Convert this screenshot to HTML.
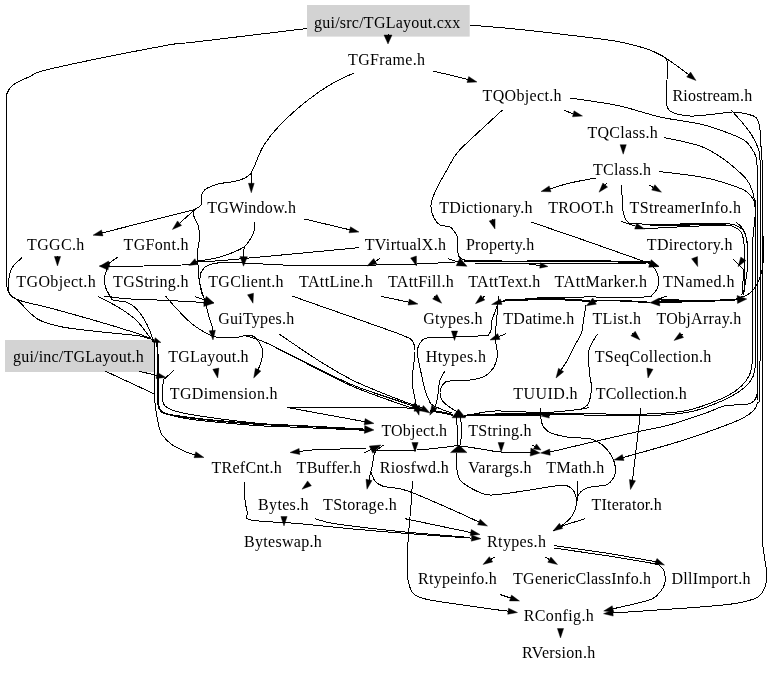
<!DOCTYPE html><html><head><meta charset="utf-8"><style>html,body{margin:0;padding:0;background:#fff}svg{display:block}text{font-family:"Liberation Serif",serif;font-size:16.0px;fill:#000}</style></head><body>
<svg style="will-change:transform" width="779" height="674" viewBox="0 0 779 674">
<rect width="779" height="674" fill="#fff"/>
<rect x="307.0" y="5.0" width="162.7" height="31.6" fill="#d3d3d3"/>
<rect x="5.0" y="340.0" width="149.0" height="32.0" fill="#d3d3d3"/>
<g fill="none" stroke="#000" stroke-width="1" shape-rendering="crispEdges">
<path d="M388.0 34.0L388.0 35.0"/>
<path d="M469.5 25.0C477.9 25.8 500.8 27.5 520.0 29.5C539.2 31.5 568.3 34.9 585.0 37.0C601.7 39.1 609.2 39.8 620.0 42.0C630.8 44.2 642.2 47.2 650.0 50.0C657.8 52.8 660.7 55.0 667.0 59.0C673.3 63.0 684.4 71.4 688.0 74.0C691.6 76.6 688.5 74.4 688.6 74.5"/>
<path d="M650.0 50.0C652.3 51.2 661.1 54.7 664.0 57.0C666.9 59.3 667.0 60.2 667.5 64.0C668.0 67.8 667.2 74.0 667.0 80.0C666.8 86.0 666.0 94.8 666.5 100.0C667.0 105.2 666.1 108.3 670.0 111.0C673.9 113.7 682.5 115.5 690.0 116.0C697.5 116.5 708.0 114.7 715.0 114.0C722.0 113.3 727.2 112.1 732.0 112.0C736.8 111.9 740.4 112.7 744.0 113.4C747.6 114.1 751.2 115.0 753.5 116.0C755.8 117.0 756.4 117.2 757.5 119.5C758.6 121.8 759.4 124.9 760.0 130.0C760.6 135.1 760.8 142.5 761.2 150.0C761.6 157.5 762.3 156.7 762.5 175.0C762.7 193.3 762.5 222.5 762.5 260.0C762.5 297.5 762.5 355.0 762.5 400.0C762.5 445.0 762.5 505.8 762.5 530.0C762.5 554.2 762.4 540.2 762.8 545.0C763.2 549.8 764.1 554.1 764.7 558.7C765.3 563.3 766.5 568.1 766.6 572.8C766.7 577.5 766.8 582.7 765.2 586.8C763.6 590.9 762.0 594.7 757.0 597.5C752.0 600.3 744.5 601.9 735.0 603.5C725.5 605.1 714.2 605.8 700.0 607.0C685.8 608.2 664.5 609.5 650.0 610.5C635.5 611.5 619.1 612.6 613.0 613.0"/>
<path d="M307.0 28.5C288.3 30.8 219.0 39.1 195.0 42.0C171.0 44.9 187.2 41.5 163.0 46.0C138.8 50.5 72.2 63.9 50.0 69.0C27.8 74.1 36.2 73.8 30.0 76.5C23.8 79.2 16.8 82.2 13.0 85.0C9.2 87.8 8.3 90.2 7.2 93.0C6.1 95.8 6.6 92.5 6.5 102.0C6.4 111.5 6.5 122.0 6.5 150.0C6.5 178.0 6.5 247.8 6.5 270.0C6.5 292.2 6.2 279.5 6.5 283.0C6.8 286.5 7.0 288.7 8.0 291.0C9.0 293.3 10.0 295.2 12.5 297.0C15.0 298.8 16.8 299.7 23.0 301.5C29.2 303.3 37.2 304.6 50.0 308.0C62.8 311.4 85.4 317.8 100.0 322.0C114.6 326.2 129.2 330.8 137.5 333.5C145.8 336.2 147.2 337.4 150.0 338.5C152.8 339.6 153.7 339.8 154.4 340.1"/>
<path d="M433.0 71.2C435.8 71.8 444.5 73.7 450.0 75.0C455.5 76.3 463.0 78.2 466.0 79.0C469.0 79.8 467.5 79.4 467.8 79.5"/>
<path d="M354.0 73.0C350.5 74.7 340.7 78.5 333.0 83.0C325.3 87.5 316.8 93.0 308.0 100.0C299.2 107.0 287.3 117.5 280.0 125.0C272.7 132.5 268.2 138.3 264.0 145.0C259.8 151.7 257.0 160.3 254.9 165.0C252.8 169.7 251.9 170.2 251.3 173.2C250.7 176.2 251.3 181.3 251.3 183.0C251.3 184.7 251.3 183.2 251.3 183.3"/>
<path d="M251.3 173.2C250.2 174.0 247.7 176.7 245.0 178.0C242.3 179.3 239.6 180.3 235.3 181.3C231.0 182.3 223.6 182.7 219.0 183.8C214.4 184.9 210.3 186.5 207.6 187.9C204.8 189.3 203.5 191.0 202.5 192.5C201.5 194.0 201.7 195.1 201.5 197.0C201.3 198.9 201.7 202.4 201.3 204.0C201.0 205.6 200.5 205.8 199.4 206.8C198.3 207.8 195.4 208.5 194.5 210.0C193.6 211.5 193.0 212.8 193.7 215.6C194.4 218.4 197.6 223.2 198.6 227.0C199.6 230.8 199.5 234.7 199.4 238.5C199.3 242.3 198.1 246.5 197.8 250.0C197.5 253.5 197.3 256.7 197.4 259.7C197.5 262.7 198.2 265.3 198.4 268.0C198.6 270.7 198.2 272.9 198.6 276.0C198.9 279.1 199.4 282.5 200.5 286.7C201.6 290.9 203.7 296.2 205.0 301.0C206.3 305.8 207.4 311.3 208.6 315.5C209.8 319.7 211.4 323.5 212.0 326.0C212.6 328.5 212.3 329.8 212.3 330.5"/>
<path d="M195.5 209.3L102.2 232.9"/>
<path d="M194.5 210.0L179.5 223.2"/>
<path d="M254.6 221.8C254.5 223.2 254.7 227.5 254.1 230.3C253.5 233.1 252.4 235.8 250.8 238.5C249.2 241.2 246.9 244.4 244.3 246.6C241.7 248.8 239.5 249.7 235.3 251.5C231.1 253.3 224.4 255.7 219.0 257.2C213.6 258.7 206.4 259.8 202.7 260.5C199.0 261.2 199.2 260.6 196.9 261.3C194.6 262.0 197.6 263.8 188.8 264.6C180.0 265.4 157.5 265.6 144.0 266.0C130.5 266.4 113.9 266.8 108.0 267.0C102.1 267.2 108.4 267.0 108.4 267.0"/>
<path d="M244.3 246.6C244.2 247.5 243.9 250.3 243.8 252.0C243.7 253.7 243.7 255.9 243.7 256.7"/>
<path d="M304.5 219.0L349.8 229.8"/>
<path d="M358.7 247.7C337.2 249.7 256.2 257.5 230.0 259.8C203.8 262.1 206.9 261.4 201.4 261.6C195.9 261.8 197.7 261.3 197.0 261.2"/>
<path d="M117.9 257.0C116.2 258.2 109.4 263.1 108.0 264.3C106.6 265.5 109.1 264.1 109.3 264.0"/>
<path d="M57.5 256.0L57.5 256.5"/>
<path d="M22.0 257.7C20.3 259.4 14.2 264.0 12.0 268.0C9.8 272.0 9.0 277.0 8.7 281.5C8.4 286.0 8.5 291.9 10.0 295.0C11.5 298.1 12.9 296.0 17.5 300.0C22.1 304.0 30.0 314.5 37.5 319.0C45.0 323.5 52.1 324.9 62.5 327.0C72.9 329.1 89.4 330.6 100.0 331.8C110.6 333.0 119.3 333.7 126.0 334.4C132.7 335.1 136.0 335.3 140.0 336.0C144.0 336.7 148.3 338.3 150.0 338.8"/>
<path d="M459.0 261.5C457.6 261.6 458.3 261.9 450.6 262.4C442.9 262.8 423.1 263.8 413.0 264.2C402.9 264.6 398.0 264.5 390.0 264.7C382.0 264.9 380.0 265.0 365.0 265.2C350.0 265.4 320.2 266.0 300.0 265.6C279.8 265.2 257.0 263.5 243.5 263.0C230.0 262.5 225.0 262.4 219.0 262.8C213.0 263.2 210.5 264.0 207.6 265.4C204.7 266.8 203.0 269.2 201.8 271.0C200.6 272.8 200.5 274.0 200.2 276.0C199.9 278.0 199.6 280.3 199.8 283.0C200.0 285.7 200.5 289.2 201.4 292.0C202.3 294.8 204.4 298.7 205.0 300.0C205.6 301.3 205.0 300.0 205.0 300.0"/>
<path d="M379.7 258.8L375.3 261.3"/>
<path d="M413.5 257.0L413.5 257.0"/>
<path d="M448.0 258.8C449.6 259.3 456.1 261.3 457.8 261.8C459.5 262.3 458.0 261.9 458.0 261.9"/>
<path d="M525.0 263.5L540.1 265.5"/>
<path d="M563.7 110.0C565.1 110.6 570.4 112.9 572.0 113.5C573.6 114.1 573.0 113.7 573.3 113.8"/>
<path d="M623.2 145.0L623.2 144.7"/>
<path d="M502.5 110.0C497.1 115.0 477.6 132.8 470.0 140.0C462.4 147.2 460.7 148.3 457.0 153.0C453.3 157.7 451.5 161.8 448.0 168.0C444.5 174.2 438.8 183.8 436.0 190.0C433.2 196.2 431.3 200.3 431.0 205.0C430.7 209.7 432.5 214.7 434.0 218.0C435.5 221.3 437.3 223.5 440.0 225.0C442.7 226.5 447.3 225.5 450.0 227.0C452.7 228.5 454.7 231.8 456.0 234.0C457.3 236.2 457.5 237.0 457.8 240.0C458.1 243.0 457.5 249.1 457.8 252.0C458.1 254.9 458.4 256.1 459.6 257.4C460.8 258.7 462.4 259.2 465.0 260.0C467.6 260.8 473.3 261.7 475.0 262.0"/>
<path d="M464.0 261.3C473.3 261.3 500.0 261.5 520.0 261.5C540.0 261.5 562.9 261.1 584.0 261.2C605.1 261.3 635.5 261.9 646.5 262.3C657.5 262.7 649.4 263.3 650.0 263.5" stroke-width="1.9"/>
<path d="M475.0 263.2C493.2 263.2 555.5 262.9 584.0 263.0C612.5 263.1 635.7 263.4 646.0 263.5"/>
<path d="M531.0 222.0C539.8 225.0 564.5 233.4 584.0 240.2C603.5 247.0 636.7 258.8 647.7 262.7C658.7 266.6 649.6 263.3 650.0 263.5"/>
<path d="M596.0 178.0C591.7 178.8 577.6 181.2 570.0 183.0C562.4 184.8 553.4 187.9 550.1 188.8"/>
<path d="M607.0 183.0L605.2 185.0"/>
<path d="M649.5 185.2L653.3 187.4"/>
<path d="M492.0 219.5L492.1 219.9"/>
<path d="M622.0 185.2C622.0 188.5 621.9 199.8 622.3 205.0C622.7 210.2 623.4 213.7 624.4 216.6C625.4 219.5 626.5 221.1 628.3 222.3C630.1 223.5 626.4 223.6 635.0 223.9C643.6 224.2 664.9 224.0 680.0 224.0C695.1 224.0 716.3 223.6 725.5 223.8C734.7 224.0 732.3 224.2 735.2 225.2C738.1 226.2 741.0 227.6 742.9 230.0C744.8 232.4 745.9 234.2 746.7 239.7C747.5 245.2 748.0 255.8 747.8 262.8C747.6 269.9 746.3 276.6 745.5 282.0C744.7 287.4 743.3 293.2 742.9 295.5"/>
<path d="M650.0 224.6C656.7 224.6 677.3 224.5 690.0 224.5C702.7 224.5 720.0 224.4 726.0 224.4" stroke-width="2"/>
<path d="M644.0 229.0C645.4 228.9 643.9 228.8 652.4 228.3C660.9 227.8 682.6 226.7 694.7 226.2C706.8 225.7 718.6 225.2 725.0 225.2C731.4 225.2 730.6 225.3 733.2 226.4C735.9 227.5 739.1 229.5 740.9 232.0C742.7 234.5 743.1 236.8 743.8 241.6C744.4 246.4 744.9 254.1 744.8 260.8C744.6 267.5 743.4 276.2 742.9 282.0C742.4 287.8 742.1 293.2 741.9 295.5"/>
<path d="M621.0 221.5L635.6 226.1"/>
<path d="M736.0 222.0C737.1 223.1 741.0 225.9 742.8 228.8C744.6 231.7 745.9 235.5 746.8 239.5C747.7 243.5 747.8 250.6 748.0 252.8"/>
<path d="M694.5 257.5L694.5 257.6"/>
<path d="M733.0 259.4C734.0 260.3 737.0 262.7 738.8 264.7C740.6 266.7 743.0 267.6 744.0 271.4C745.0 275.2 745.0 283.4 744.8 287.4C744.6 291.4 743.1 294.1 742.8 295.4"/>
<path d="M659.0 171.5C666.5 172.5 691.5 175.1 704.0 177.5C716.5 179.9 726.8 183.6 734.0 186.0C741.2 188.4 743.8 189.7 747.0 192.0C750.2 194.3 752.1 197.0 753.5 200.0C754.9 203.0 755.1 206.2 755.3 210.0C755.5 213.8 754.9 218.5 754.5 223.0C754.1 227.5 753.3 231.7 753.0 237.0C752.7 242.3 752.6 237.8 752.5 255.0C752.4 272.2 752.5 322.5 752.5 340.0C752.5 357.5 753.0 354.2 752.5 360.0C752.0 365.8 751.3 370.7 749.5 375.0C747.7 379.3 744.9 382.7 741.5 386.0C738.1 389.3 734.4 392.1 729.0 395.0C723.6 397.9 715.7 401.2 709.0 403.7C702.3 406.2 696.1 408.4 689.0 410.0C681.9 411.6 675.7 412.3 666.5 413.0C657.3 413.7 647.8 414.2 634.0 414.3C620.2 414.4 599.5 413.8 584.0 413.7C568.5 413.6 555.8 413.8 541.0 413.8C526.2 413.9 507.8 413.7 495.0 414.0C482.2 414.3 469.2 415.2 464.0 415.5"/>
<path d="M560.0 414.3C550.0 414.4 516.0 414.4 500.0 414.6C484.0 414.8 470.0 415.4 464.0 415.6" stroke-width="2"/>
<path d="M664.0 137.5C670.0 138.9 690.3 142.6 700.0 146.0C709.7 149.4 715.8 154.0 722.0 158.0C728.2 162.0 732.8 166.3 737.0 170.0C741.2 173.7 744.5 176.7 747.0 180.0C749.5 183.3 750.8 186.7 752.0 190.0C753.2 193.3 753.9 195.8 754.5 200.0C755.1 204.2 755.3 191.7 755.5 215.0C755.7 238.3 755.5 315.2 755.5 340.0C755.5 364.8 756.0 357.8 755.5 364.0C755.0 370.2 754.5 373.2 752.8 377.0C751.0 380.8 748.5 383.8 745.0 387.0C741.5 390.2 737.5 393.0 732.0 396.0C726.5 399.0 718.7 402.4 712.0 405.0C705.3 407.6 699.3 409.9 692.0 411.5C684.7 413.1 677.7 413.9 668.0 414.6C658.3 415.3 648.0 415.5 634.0 415.6C620.0 415.7 599.5 415.1 584.0 415.0C568.5 414.9 555.8 414.9 541.0 415.0C526.2 415.1 506.8 415.1 495.0 415.3C483.2 415.5 474.2 415.9 470.0 416.0"/>
<path d="M570.0 98.0C572.3 98.3 575.7 98.7 584.0 100.0C592.3 101.3 607.3 103.2 620.0 106.0C632.7 108.8 646.7 114.0 660.0 117.0C673.3 120.0 689.1 121.5 700.0 124.0C710.9 126.5 718.2 129.3 725.5 132.0C732.8 134.7 739.6 137.2 744.0 140.0C748.4 142.8 750.0 146.2 752.0 149.0C754.0 151.8 755.1 153.5 756.0 157.0C756.9 160.5 757.0 165.3 757.3 170.0C757.5 174.7 757.5 150.0 757.5 185.0C757.5 220.0 757.7 345.0 757.5 380.0C757.3 415.0 757.1 391.5 756.5 395.0C755.9 398.5 755.7 399.4 754.0 401.0C752.3 402.6 749.8 403.8 746.5 404.5C743.2 405.2 737.8 404.8 734.0 405.0C730.2 405.2 729.0 404.6 724.0 406.0C719.0 407.4 713.2 410.5 704.0 413.7C694.8 416.9 680.7 421.9 669.0 425.0C657.3 428.1 648.2 429.3 634.0 432.5C619.8 435.7 598.2 440.7 584.0 444.0C569.8 447.3 554.7 450.9 549.0 452.3C543.3 453.7 549.8 452.2 550.0 452.2"/>
<path d="M731.0 110.0C733.0 112.2 739.5 119.2 743.0 123.5C746.5 127.8 749.4 131.1 752.0 135.5C754.6 139.9 757.5 145.9 758.8 150.0C760.1 154.1 759.7 155.0 760.0 160.0C760.3 165.0 760.4 156.7 760.5 180.0C760.6 203.3 760.7 264.6 760.5 300.0C760.3 335.4 760.0 375.4 759.5 392.5C759.0 409.6 758.6 399.6 757.7 402.5C756.8 405.4 756.3 407.5 754.0 410.0C751.7 412.5 749.0 414.8 744.0 417.5C739.0 420.2 734.0 422.2 724.0 426.0C714.0 429.8 696.9 435.8 684.0 440.0C671.1 444.2 656.6 448.1 646.5 451.0C636.4 453.9 627.0 456.4 623.2 457.5"/>
<path d="M763.0 235.0C763.1 238.8 763.6 252.2 763.4 258.0C763.2 263.8 762.7 266.3 762.0 270.0C761.3 273.7 760.3 276.8 759.0 280.0C757.7 283.2 756.0 286.5 754.0 289.0C752.0 291.5 749.1 293.7 747.0 295.0C744.9 296.3 742.4 296.7 741.5 297.0"/>
<path d="M659.0 299.5C665.8 299.8 686.8 301.0 700.0 301.0C713.2 301.0 731.8 299.7 738.0 299.5C744.2 299.3 737.4 299.5 737.3 299.5" stroke-width="1.8"/>
<path d="M741.5 299.0C734.6 299.4 713.6 300.8 700.0 301.3C686.4 301.8 666.8 301.9 660.0 302.0C653.2 302.1 659.6 302.0 659.5 302.0" stroke-width="1.6"/>
<path d="M666.5 296.0L659.0 299.0"/>
<path d="M646.5 262.5C647.3 262.9 649.8 263.7 651.5 265.2C653.2 266.7 655.3 269.0 656.5 271.5C657.7 274.0 658.4 277.3 658.5 280.2C658.6 283.1 658.0 286.7 657.0 289.0C656.0 291.3 654.9 292.7 652.7 294.0C650.5 295.3 655.5 296.5 644.0 297.0C632.5 297.5 599.8 296.9 584.0 297.0C568.2 297.1 558.7 297.0 549.0 297.3C539.3 297.6 532.5 298.4 526.0 298.9C519.5 299.4 513.8 300.0 510.0 300.4C506.2 300.8 504.5 301.0 503.0 301.2C501.5 301.4 501.5 301.6 501.2 301.7"/>
<path d="M503.0 300.6C506.8 300.4 518.3 299.9 526.0 299.6C533.7 299.3 540.8 298.5 549.0 298.6C557.2 298.7 568.2 299.8 575.0 300.2C581.8 300.6 587.5 300.7 590.0 300.8" stroke-width="2"/>
<path d="M650.0 302.5C645.0 302.2 628.7 301.0 620.0 300.7C611.3 300.4 602.5 300.4 598.0 300.6C593.5 300.8 593.6 301.9 593.0 302.0C592.4 302.1 594.3 301.3 594.6 301.1" stroke-width="1.6"/>
<path d="M586.0 305.5C585.6 307.9 584.2 315.4 583.5 320.0C582.8 324.6 582.9 328.8 581.5 333.0C580.1 337.2 577.3 340.5 575.0 345.0C572.7 349.5 569.8 355.8 567.5 360.0C565.2 364.2 562.2 368.3 561.1 370.0"/>
<path d="M381.5 296.5L408.7 302.1"/>
<path d="M434.5 296.5L434.7 296.7"/>
<path d="M484.8 296.0L482.8 297.6"/>
<path d="M498.7 296.0C498.5 297.3 498.1 301.3 497.5 304.0C496.9 306.7 495.9 309.3 495.0 312.0C494.1 314.7 492.7 317.0 492.0 320.0C491.3 323.0 491.5 327.7 491.0 330.0C490.5 332.3 490.0 333.1 489.0 334.0C488.0 334.9 490.7 335.0 485.0 335.5C479.3 336.0 464.2 336.7 455.0 337.0C445.8 337.3 435.4 337.0 430.0 337.5C424.6 338.0 424.5 338.3 422.5 340.0C420.5 341.7 418.8 344.6 418.0 347.5C417.2 350.4 417.5 353.3 418.0 357.5C418.5 361.7 419.8 367.1 421.0 372.5C422.2 377.9 423.5 385.0 425.0 390.0C426.5 395.0 428.6 399.9 430.0 402.5C431.4 405.1 431.4 404.3 433.4 405.5C435.4 406.7 438.9 408.2 442.0 409.5C445.1 410.8 450.3 412.4 452.0 413.0"/>
<path d="M497.5 304.0C497.4 306.7 497.1 314.6 496.7 320.0C496.3 325.4 494.9 330.9 495.0 336.7C495.1 342.5 497.7 349.9 497.5 355.0C497.3 360.1 495.8 364.0 493.7 367.5C491.6 371.0 488.9 373.9 485.0 376.0C481.1 378.1 475.8 379.2 470.0 380.0C464.2 380.8 454.4 380.4 450.0 381.0C445.6 381.6 445.4 381.8 443.7 383.7C442.0 385.6 440.2 389.6 440.0 392.5C439.8 395.4 440.8 398.5 442.5 401.0C444.2 403.5 447.8 405.8 450.0 407.5C452.2 409.2 454.7 409.9 456.0 411.0C457.3 412.1 457.7 413.5 458.0 414.0"/>
<path d="M506.0 333.7L498.8 336.5"/>
<path d="M454.5 331.5L454.5 331.0"/>
<path d="M445.0 371.0C444.2 372.5 441.2 376.0 440.0 380.0C438.8 384.0 438.6 391.0 437.9 395.0C437.2 399.0 436.6 402.0 436.0 404.0C435.4 406.0 434.7 406.4 434.4 406.9"/>
<path d="M292.0 296.0C307.9 301.6 368.2 322.8 387.5 329.7C406.8 336.6 403.3 335.6 407.5 337.5C411.7 339.4 411.2 338.9 412.5 341.0C413.8 343.1 414.8 346.0 415.0 350.0C415.2 354.0 414.2 360.0 413.7 365.0C413.2 370.0 412.0 375.4 412.0 380.0C412.0 384.6 412.9 388.0 413.7 392.5C414.5 397.0 416.2 404.5 416.7 406.8C417.2 409.1 416.5 406.2 416.5 406.0"/>
<path d="M279.3 334.2C286.2 338.8 308.2 354.1 320.9 362.0C333.6 369.9 342.3 375.3 355.5 381.6C368.7 387.9 389.2 395.8 400.0 400.0C410.8 404.2 416.4 405.6 420.0 407.0C423.6 408.4 421.5 407.9 421.9 408.1"/>
<path d="M245.0 335.7C246.5 336.1 249.7 336.9 253.9 338.4C258.1 339.9 258.8 339.3 270.0 344.6C281.2 349.9 306.6 363.1 320.9 370.0C335.1 376.9 342.3 380.9 355.5 386.2C368.7 391.4 390.1 398.1 400.0 401.5C409.9 404.9 412.8 405.9 415.0 406.5C417.2 407.1 413.4 405.4 413.1 405.2"/>
<path d="M270.0 344.6C278.5 349.0 306.6 363.6 320.9 370.8C335.1 378.0 342.3 382.1 355.5 387.6C368.7 393.1 389.6 400.4 400.0 404.0C410.4 407.6 415.0 408.6 418.0 409.5"/>
<path d="M287.4 407.5C304.5 407.6 368.7 407.7 390.0 407.8C411.3 407.9 410.9 408.2 415.0 408.3C419.1 408.4 414.8 408.3 414.8 408.2"/>
<path d="M287.4 407.5L364.7 421.7"/>
<path d="M165.5 296.0C167.3 298.1 172.1 303.9 176.3 308.3C180.5 312.8 185.8 318.6 190.6 322.7C195.4 326.8 200.8 330.2 205.0 332.6C209.2 335.0 210.8 336.2 215.8 337.0C220.8 337.8 230.1 337.7 235.0 337.5C239.9 337.3 242.1 335.9 245.0 335.7C247.9 335.4 250.4 335.3 252.5 336.0C254.6 336.7 255.8 337.7 257.5 340.0C259.2 342.3 261.9 346.2 262.5 350.0C263.1 353.8 262.1 358.6 261.0 362.5C259.9 366.4 256.5 372.5 256.0 373.7C255.5 374.9 257.8 370.3 258.2 369.6"/>
<path d="M104.4 296.0C108.0 296.4 116.4 298.0 126.0 298.7C135.6 299.4 148.7 299.6 161.9 300.2C175.1 300.8 198.0 302.1 205.0 302.5C212.0 302.9 204.2 302.5 204.0 302.4"/>
<path d="M195.0 296.6L205.0 300.0"/>
<path d="M98.0 296.6C101.2 298.2 110.8 302.8 117.0 306.5C123.2 310.2 130.2 314.8 135.0 319.0C139.8 323.2 142.7 327.9 145.7 331.7C148.7 335.4 151.8 339.9 153.0 341.5"/>
<path d="M108.0 267.0C107.5 268.5 105.2 272.7 104.7 276.0C104.2 279.3 104.5 283.4 105.3 286.7C106.1 290.0 108.4 293.4 109.8 295.7C111.2 297.9 110.7 299.1 113.4 300.2C116.1 301.2 122.4 300.8 126.0 302.0C129.6 303.2 132.0 304.6 135.0 307.4C138.0 310.2 141.5 314.9 144.0 319.0C146.5 323.1 148.6 327.8 150.2 331.7C151.8 335.6 153.2 340.6 153.8 342.4"/>
<path d="M250.5 294.0L250.5 294.0"/>
<path d="M153.0 340.0C153.2 340.5 154.0 338.7 154.3 343.0C154.6 347.3 155.0 357.7 155.0 366.0C155.0 374.3 154.1 385.5 154.3 393.0C154.5 400.5 155.3 405.7 156.0 411.0C156.7 416.3 157.6 421.0 158.6 425.0C159.6 429.0 159.9 431.7 162.2 435.0C164.5 438.3 168.3 442.1 172.5 445.0C176.7 447.9 183.8 450.9 187.5 452.5C191.2 454.1 193.7 454.4 194.9 454.7"/>
<path d="M155.0 341.0C155.3 341.4 156.5 339.3 157.0 343.5C157.5 347.7 157.9 356.2 158.1 366.0C158.3 375.8 157.7 394.7 158.1 402.0C158.5 409.3 159.0 408.0 160.4 410.0C161.8 412.0 161.4 412.7 166.7 414.0C172.0 415.3 181.8 416.7 192.0 418.0C202.2 419.3 216.7 420.7 228.0 421.7C239.3 422.7 248.9 423.5 260.0 424.2C271.1 424.9 279.5 424.9 294.5 425.6C309.5 426.3 338.3 428.0 350.0 428.6C361.7 429.2 362.1 429.3 364.5 429.4" stroke-width="1.6"/>
<path d="M158.1 395.0C158.3 397.2 158.3 404.9 159.5 408.0C160.7 411.1 159.6 411.6 165.0 413.5C170.4 415.4 181.5 417.9 192.0 419.5C202.5 421.1 216.7 422.1 228.0 423.2C239.3 424.2 248.9 425.1 260.0 425.8C271.1 426.5 276.2 426.4 294.5 427.2C312.8 428.0 357.4 429.9 370.0 430.5"/>
<path d="M138.7 371.2C141.4 371.8 152.0 374.3 155.0 375.0C158.0 375.7 156.4 375.3 156.7 375.4"/>
<path d="M173.7 370.5C172.4 371.7 167.7 375.9 166.0 377.5C164.3 379.1 164.3 377.9 163.7 380.0C163.1 382.1 162.7 386.7 162.5 390.0C162.3 393.3 162.1 397.3 162.5 400.0C162.9 402.7 162.9 404.2 165.0 406.0C167.1 407.8 169.2 409.3 175.0 411.0C180.8 412.7 187.5 414.1 200.0 416.0C212.5 417.9 234.2 420.8 250.0 422.5C265.8 424.2 287.1 425.4 294.5 426.0"/>
<path d="M105.0 371.0L154.1 393.8"/>
<path d="M216.0 369.5L215.8 368.7"/>
<path d="M632.5 333.0L633.1 333.5"/>
<path d="M683.0 334.0L681.7 334.9"/>
<path d="M650.0 368.5L650.0 368.7"/>
<path d="M597.7 333.7C596.2 336.4 590.4 343.5 589.0 350.0C587.6 356.5 589.1 366.2 589.5 372.5C589.9 378.8 591.6 382.5 591.5 387.5C591.4 392.5 590.2 399.2 589.0 402.5C587.8 405.8 585.8 406.3 584.0 407.5C582.2 408.7 584.5 408.7 578.0 409.5C571.5 410.3 558.8 412.2 545.0 412.5C531.2 412.8 507.5 410.6 495.0 411.0C482.5 411.4 474.2 414.3 470.0 415.0"/>
<path d="M580.0 409.5L589.5 407.5"/>
<path d="M555.0 414.5L549.0 415.1"/>
<path d="M641.0 408.0C639.6 420.0 633.9 468.0 632.5 480.0C631.1 492.0 632.5 480.2 632.5 480.2"/>
<path d="M541.0 408.0C541.0 409.3 540.5 413.2 540.7 416.0C541.0 418.8 541.0 422.2 542.5 425.0C544.0 427.8 545.4 430.4 550.0 432.5C554.6 434.6 563.3 436.5 570.0 437.5C576.7 438.5 584.6 437.4 590.0 438.7C595.4 439.9 599.0 442.3 602.5 445.0C606.0 447.7 608.8 451.2 611.0 455.0C613.2 458.8 615.0 463.8 615.5 467.5C616.0 471.2 615.3 474.6 613.7 477.5C612.1 480.4 609.5 483.5 606.0 485.0C602.5 486.5 596.3 485.7 592.5 486.5C588.7 487.3 585.3 488.6 583.0 490.0C580.7 491.4 579.5 493.2 578.5 495.0C577.5 496.8 577.2 500.0 577.0 501.0"/>
<path d="M577.5 481.0C577.4 484.2 577.4 495.2 577.0 500.0C576.6 504.8 576.2 506.9 575.0 510.0C573.8 513.1 572.1 516.2 570.0 518.7C567.9 521.2 564.0 523.8 562.5 525.0C561.0 526.2 561.3 525.8 561.0 525.9"/>
<path d="M585.0 518.7C581.2 519.9 567.8 524.0 562.5 526.0C557.2 528.0 554.6 530.2 553.0 531.0"/>
<path d="M501.2 443.0L501.2 442.5"/>
<path d="M415.0 443.0L415.0 442.5"/>
<path d="M456.0 416.0C456.2 418.3 457.2 425.2 457.5 430.0C457.8 434.8 457.9 442.5 458.0 445.0"/>
<path d="M460.0 416.0C460.3 418.3 462.0 425.2 462.0 430.0C462.0 434.8 460.3 442.5 460.0 445.0"/>
<path d="M430.0 410.5C432.0 410.8 438.2 411.8 442.0 412.5C445.8 413.2 451.2 414.6 453.0 415.0" stroke-width="2"/>
<path d="M375.0 450.0C381.9 450.0 404.8 450.5 416.7 450.0C428.6 449.5 439.5 447.7 446.7 447.0C453.9 446.3 453.3 445.5 460.0 446.0C466.7 446.5 479.9 449.0 486.7 450.0C493.5 451.0 493.4 451.6 501.0 452.0C508.6 452.4 527.6 452.3 532.5 452.3C537.4 452.3 530.9 452.1 530.5 452.1"/>
<path d="M532.5 445.0L535.0 446.5"/>
<path d="M366.0 448.0C363.3 448.1 358.9 448.4 350.0 448.7C341.1 449.0 320.9 449.5 312.5 450.0C304.1 450.5 301.6 451.2 299.4 451.5"/>
<path d="M364.0 453.0L371.0 449.7"/>
<path d="M383.7 445.0C382.2 446.2 376.9 449.2 375.0 452.5C373.1 455.8 373.4 460.8 372.5 465.0C371.6 469.2 370.1 475.0 369.5 477.5C368.9 480.0 369.1 479.5 369.0 479.9"/>
<path d="M371.0 472.5C371.7 473.9 373.1 478.8 375.0 481.0C376.9 483.2 379.2 484.8 382.5 486.0C385.8 487.2 391.6 487.6 394.5 488.0C397.4 488.4 396.6 487.8 400.0 488.7C403.4 489.6 405.8 490.0 415.0 493.7C424.2 497.4 444.4 506.3 455.0 511.0C465.6 515.7 474.9 520.2 478.9 522.0"/>
<path d="M456.0 452.5C456.2 455.4 456.3 465.4 457.0 470.0C457.7 474.6 458.2 477.3 460.0 480.0C461.8 482.7 464.2 483.9 467.5 486.0C470.8 488.1 475.8 491.0 480.0 492.5C484.2 494.0 484.2 495.4 492.5 495.0C500.8 494.6 519.6 491.5 530.0 490.0C540.4 488.5 548.8 486.7 555.0 486.0C561.2 485.3 564.4 485.2 567.5 486.0C570.6 486.8 572.1 488.7 573.7 491.0C575.3 493.3 576.5 498.5 577.0 500.0"/>
<path d="M412.5 481.0C412.2 485.0 411.8 494.8 411.0 505.0C410.2 515.2 408.6 530.8 408.0 542.5C407.4 554.2 407.2 567.5 407.5 575.0C407.8 582.5 408.8 584.2 410.0 587.5C411.2 590.8 411.7 592.9 415.0 595.0C418.3 597.1 419.2 597.9 430.0 600.0C440.8 602.1 467.0 605.6 480.0 607.5C493.0 609.4 503.4 610.6 508.1 611.2"/>
<path d="M310.0 483.0L309.5 483.4"/>
<path d="M244.5 482.5C244.6 485.4 244.5 495.0 245.0 500.0C245.5 505.0 246.5 509.2 247.5 512.5C248.5 515.8 242.2 518.1 251.0 520.0C259.8 521.9 283.5 522.2 300.0 523.7C316.5 525.2 334.2 527.2 350.0 528.7C365.8 530.2 379.5 531.3 394.5 532.5C409.5 533.7 427.2 535.1 440.0 536.0C452.8 536.9 466.3 537.7 471.5 538.1"/>
<path d="M284.0 517.0L284.0 516.5"/>
<path d="M315.0 518.7C318.3 519.5 321.8 521.7 335.0 523.7C348.2 525.8 377.0 529.1 394.5 531.0C412.0 532.9 427.4 533.9 440.0 535.0C452.6 536.1 465.0 537.1 470.0 537.5"/>
<path d="M405.0 518.7L470.7 532.5"/>
<path d="M494.5 557.0L491.0 559.3"/>
<path d="M545.0 557.0L549.4 559.6"/>
<path d="M553.7 545.5C563.1 546.9 592.7 551.0 610.0 553.7C627.3 556.5 649.9 560.7 657.5 562.0C665.1 563.3 656.1 561.4 655.8 561.3"/>
<path d="M553.7 548.0C563.1 549.4 593.6 553.7 610.0 556.2C626.4 558.8 643.7 561.7 652.0 563.3C660.3 564.9 657.9 564.3 660.0 565.8C662.1 567.3 663.7 569.7 664.5 572.5C665.3 575.3 665.6 579.4 665.0 582.5C664.4 585.6 663.1 588.3 661.0 591.0C658.9 593.7 656.8 596.6 652.5 598.7C648.2 600.8 641.6 602.0 635.0 603.7C628.4 605.4 616.6 608.0 613.0 608.8"/>
<path d="M500.0 594.5L510.5 598.0"/>
<path d="M560.5 629.0L560.5 628.5"/>
</g><g fill="#000" stroke="#000" stroke-width="0.4">
<polygon points="388.0,44.0 384.0,35.0 392.0,35.0"/>
<polygon points="696.0,80.5 686.7,76.9 690.6,72.1"/>
<polygon points="603.5,613.7 612.8,610.0 613.2,616.1"/>
<polygon points="161.0,342.5 153.5,342.6 155.3,337.7"/>
<polygon points="477.0,82.0 467.0,82.5 468.7,76.5"/>
<polygon points="251.3,192.8 248.4,183.3 254.2,183.3"/>
<polygon points="213.0,340.0 209.2,330.7 215.4,330.3"/>
<polygon points="188.8,265.4 194.9,258.7 197.8,264.4"/>
<polygon points="93.0,235.2 101.5,229.9 103.0,235.9"/>
<polygon points="172.4,229.5 177.5,220.9 181.6,225.5"/>
<polygon points="99.0,266.0 108.8,264.0 108.1,270.1"/>
<polygon points="243.5,266.2 240.0,256.6 247.4,256.8"/>
<polygon points="359.0,232.0 349.0,232.8 350.5,226.8"/>
<polygon points="100.0,266.0 108.6,261.0 109.9,267.1"/>
<polygon points="57.5,266.0 54.4,256.5 60.6,256.5"/>
<polygon points="214.0,303.0 203.7,303.8 206.3,296.2"/>
<polygon points="367.0,266.0 373.7,258.6 376.8,264.0"/>
<polygon points="416.5,266.0 410.6,258.0 416.4,256.0"/>
<polygon points="467.0,266.3 456.2,265.7 459.9,258.1"/>
<polygon points="548.0,266.5 539.7,268.2 540.4,262.7"/>
<polygon points="582.5,116.0 572.5,116.8 574.0,110.8"/>
<polygon points="623.2,154.2 620.1,144.7 626.3,144.7"/>
<polygon points="659.0,266.5 648.7,267.3 651.3,259.7"/>
<polygon points="659.0,266.5 649.0,266.4 651.0,260.5"/>
<polygon points="541.0,191.5 549.2,185.9 551.0,191.8"/>
<polygon points="599.0,192.2 602.9,183.0 607.6,187.1"/>
<polygon points="661.5,192.2 651.7,190.1 654.9,184.7"/>
<polygon points="495.0,229.0 489.2,220.9 495.1,219.0"/>
<polygon points="644.7,229.0 634.7,229.1 636.6,223.2"/>
<polygon points="697.7,266.6 691.6,258.7 697.5,256.6"/>
<polygon points="738.0,266.7 740.8,257.1 745.9,260.6"/>
<polygon points="540.5,453.0 549.7,449.1 550.2,455.3"/>
<polygon points="614.0,460.0 622.3,454.5 624.0,460.5"/>
<polygon points="746.8,299.0 737.5,303.5 737.1,295.5"/>
<polygon points="650.0,302.7 659.2,298.0 659.8,306.0"/>
<polygon points="491.6,304.5 500.4,299.0 502.0,304.4"/>
<polygon points="586.3,305.8 592.8,298.0 596.3,304.2"/>
<polygon points="556.0,378.0 558.5,368.3 563.7,371.7"/>
<polygon points="418.0,304.0 408.1,305.1 409.3,299.1"/>
<polygon points="441.7,303.2 432.6,299.0 436.9,294.5"/>
<polygon points="475.5,303.7 480.8,295.3 484.8,300.0"/>
<polygon points="490.0,340.0 497.7,333.6 500.0,339.4"/>
<polygon points="454.5,340.5 451.4,331.0 457.6,331.0"/>
<polygon points="429.8,415.2 431.7,405.4 437.1,408.4"/>
<polygon points="419.0,415.2 413.5,406.9 419.5,405.2"/>
<polygon points="430.0,413.0 420.3,410.8 423.4,405.5"/>
<polygon points="421.0,410.5 411.4,407.8 414.8,402.7"/>
<polygon points="424.0,410.5 414.0,411.3 415.5,405.2"/>
<polygon points="374.0,423.4 364.1,424.7 365.2,418.6"/>
<polygon points="253.7,378.0 255.4,368.2 260.9,371.1"/>
<polygon points="214.0,303.0 203.8,306.6 204.2,298.3"/>
<polygon points="253.0,303.2 247.5,294.8 253.5,293.2"/>
<polygon points="204.0,457.5 194.0,457.7 195.8,451.8"/>
<polygon points="374.0,430.0 364.3,433.4 364.7,425.5"/>
<polygon points="166.0,377.5 156.0,378.4 157.4,372.4"/>
<polygon points="217.7,378.0 212.8,369.3 218.9,368.1"/>
<polygon points="640.0,340.0 630.9,335.8 635.2,331.3"/>
<polygon points="674.0,340.5 679.9,332.4 683.5,337.5"/>
<polygon points="648.0,378.0 646.9,368.1 653.0,369.3"/>
<polygon points="541.0,416.0 548.6,412.2 549.3,418.1"/>
<polygon points="630.5,489.5 629.4,479.6 635.5,480.8"/>
<polygon points="553.0,531.0 559.4,523.3 562.7,528.5"/>
<polygon points="501.2,452.0 498.1,442.5 504.3,442.5"/>
<polygon points="415.0,452.0 411.9,442.5 418.1,442.5"/>
<polygon points="459,445 450.5,452.6 467,452.6"/>
<polygon points="458.4,409 452,417.8 465.5,417.8"/>
<polygon points="540.0,453.0 530.2,456.1 530.9,448.1"/>
<polygon points="541.0,450.0 533.4,449.0 536.5,443.9"/>
<polygon points="290.0,452.5 299.1,448.4 299.8,454.5"/>
<polygon points="381.0,445.0 372.8,453.3 369.3,446.1"/>
<polygon points="367.0,489.2 366.0,479.3 372.0,480.6"/>
<polygon points="487.5,526.0 477.6,524.8 480.2,519.2"/>
<polygon points="517.5,612.5 507.7,614.3 508.5,608.2"/>
<polygon points="302.0,489.2 307.6,480.9 311.4,485.8"/>
<polygon points="481.0,538.7 471.3,541.2 471.7,535.0"/>
<polygon points="284.0,526.0 280.9,516.5 287.1,516.5"/>
<polygon points="480.0,534.5 470.1,535.6 471.3,529.5"/>
<polygon points="483.0,564.5 489.3,556.7 492.7,561.9"/>
<polygon points="557.5,564.5 547.8,562.3 550.9,557.0"/>
<polygon points="664.5,565.0 654.5,564.1 657.0,558.4"/>
<polygon points="603.7,611.0 612.2,605.8 613.7,611.9"/>
<polygon points="519.5,601.0 509.5,600.9 511.5,595.1"/>
<polygon points="560.5,638.0 557.4,628.5 563.6,628.5"/>
</g>
<text x="314.0" y="27.9" textLength="146.2" lengthAdjust="spacing">gui/src/TGLayout.cxx</text>
<text x="348.0" y="64.5" textLength="77.1" lengthAdjust="spacing">TGFrame.h</text>
<text x="482.6" y="101.2" textLength="79.0" lengthAdjust="spacing">TQObject.h</text>
<text x="672.5" y="101.2" textLength="79.7" lengthAdjust="spacing">Riostream.h</text>
<text x="587.4" y="138.2" textLength="70.3" lengthAdjust="spacing">TQClass.h</text>
<text x="593.0" y="175.3" textLength="58.1" lengthAdjust="spacing">TClass.h</text>
<text x="207.2" y="213.0" textLength="88.7" lengthAdjust="spacing">TGWindow.h</text>
<text x="439.2" y="213.0" textLength="93.4" lengthAdjust="spacing">TDictionary.h</text>
<text x="548.3" y="213.0" textLength="65.1" lengthAdjust="spacing">TROOT.h</text>
<text x="629.6" y="213.0" textLength="111.3" lengthAdjust="spacing">TStreamerInfo.h</text>
<text x="27.0" y="249.6" textLength="57.3" lengthAdjust="spacing">TGGC.h</text>
<text x="123.6" y="249.6" textLength="64.9" lengthAdjust="spacing">TGFont.h</text>
<text x="364.7" y="249.6" textLength="81.4" lengthAdjust="spacing">TVirtualX.h</text>
<text x="465.9" y="249.6" textLength="68.4" lengthAdjust="spacing">Property.h</text>
<text x="646.8" y="249.6" textLength="85.6" lengthAdjust="spacing">TDirectory.h</text>
<text x="16.3" y="286.6" textLength="79.4" lengthAdjust="spacing">TGObject.h</text>
<text x="113.1" y="286.6" textLength="75.4" lengthAdjust="spacing">TGString.h</text>
<text x="208.2" y="286.6" textLength="75.4" lengthAdjust="spacing">TGClient.h</text>
<text x="299.0" y="286.6" textLength="73.7" lengthAdjust="spacing">TAttLine.h</text>
<text x="388.1" y="286.6" textLength="65.7" lengthAdjust="spacing">TAttFill.h</text>
<text x="468.2" y="286.6" textLength="72.1" lengthAdjust="spacing">TAttText.h</text>
<text x="554.6" y="286.6" textLength="92.5" lengthAdjust="spacing">TAttMarker.h</text>
<text x="663.1" y="286.6" textLength="71.4" lengthAdjust="spacing">TNamed.h</text>
<text x="218.2" y="323.6" textLength="76.1" lengthAdjust="spacing">GuiTypes.h</text>
<text x="423.2" y="323.6" textLength="59.3" lengthAdjust="spacing">Gtypes.h</text>
<text x="503.3" y="323.6" textLength="71.0" lengthAdjust="spacing">TDatime.h</text>
<text x="592.4" y="323.6" textLength="48.7" lengthAdjust="spacing">TList.h</text>
<text x="656.4" y="323.6" textLength="84.8" lengthAdjust="spacing">TObjArray.h</text>
<text x="13.0" y="361.6" textLength="130.8" lengthAdjust="spacing">gui/inc/TGLayout.h</text>
<text x="168.2" y="361.6" textLength="80.4" lengthAdjust="spacing">TGLayout.h</text>
<text x="425.8" y="361.6" textLength="60.1" lengthAdjust="spacing">Htypes.h</text>
<text x="594.7" y="361.6" textLength="116.5" lengthAdjust="spacing">TSeqCollection.h</text>
<text x="169.8" y="398.6" textLength="107.8" lengthAdjust="spacing">TGDimension.h</text>
<text x="513.3" y="398.6" textLength="64.3" lengthAdjust="spacing">TUUID.h</text>
<text x="595.7" y="398.6" textLength="91.1" lengthAdjust="spacing">TCollection.h</text>
<text x="381.4" y="435.6" textLength="65.7" lengthAdjust="spacing">TObject.h</text>
<text x="468.2" y="435.6" textLength="63.4" lengthAdjust="spacing">TString.h</text>
<text x="211.4" y="472.9" textLength="70.4" lengthAdjust="spacing">TRefCnt.h</text>
<text x="296.6" y="472.9" textLength="64.5" lengthAdjust="spacing">TBuffer.h</text>
<text x="379.8" y="472.9" textLength="69.0" lengthAdjust="spacing">Riosfwd.h</text>
<text x="468.2" y="472.9" textLength="63.4" lengthAdjust="spacing">Varargs.h</text>
<text x="546.3" y="472.9" textLength="58.0" lengthAdjust="spacing">TMath.h</text>
<text x="258.1" y="509.9" textLength="50.4" lengthAdjust="spacing">Bytes.h</text>
<text x="323.1" y="509.9" textLength="73.6" lengthAdjust="spacing">TStorage.h</text>
<text x="591.4" y="509.9" textLength="70.4" lengthAdjust="spacing">TIterator.h</text>
<text x="244.1" y="547.4" textLength="77.7" lengthAdjust="spacing">Byteswap.h</text>
<text x="487.1" y="547.4" textLength="58.8" lengthAdjust="spacing">Rtypes.h</text>
<text x="418.0" y="584.1" textLength="78.8" lengthAdjust="spacing">Rtypeinfo.h</text>
<text x="513.1" y="584.1" textLength="138.0" lengthAdjust="spacing">TGenericClassInfo.h</text>
<text x="671.5" y="584.1" textLength="79.0" lengthAdjust="spacing">DllImport.h</text>
<text x="523.8" y="620.8" textLength="70.0" lengthAdjust="spacing">RConfig.h</text>
<text x="522.1" y="658.2" textLength="73.1" lengthAdjust="spacing">RVersion.h</text>
</svg></body></html>
